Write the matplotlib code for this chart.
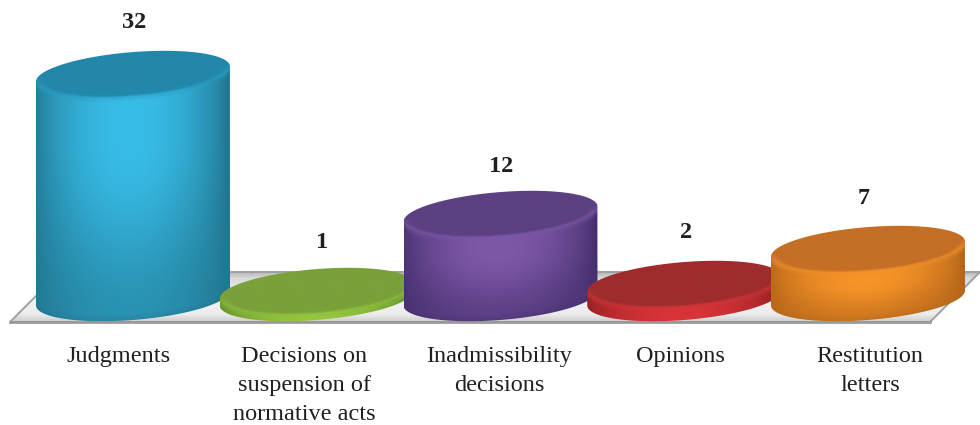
import numpy as np
import matplotlib
matplotlib.use("Agg")
from matplotlib import pyplot as plt
from matplotlib.patches import PathPatch, Polygon
from matplotlib.path import Path

categories = ["Judgments", "Decisions on\nsuspension of\nnormative acts",
              "Inadmissibility\ndecisions", "Opinions", "Restitution\nletters"]
values = [32, 1, 12, 2, 7]

# colours per cylinder: side edge, side highlight, top face, rim
edge_colors = ["#217690", "#5f8a2a", "#46306f", "#8f1f22", "#b5661a"]
light_colors = ["#38bde8", "#96c83c", "#7f58a8", "#d83438", "#f79428"]
top_colors = ["#2387ab", "#7aa03a", "#5c4082", "#9f2c2d", "#c46f25"]
rim_colors = ["#2a9bbf", "#8dbb40", "#7a56a6", "#cb3438", "#ee8f2b"]

# pixel scales of the chart
PX_X = 183.75   # pixels per category
PX_Y = 7.0      # pixels per unit of value
A = 97 / PX_X   # ellipse half width
B = 22 / PX_Y   # ellipse half height
S = 7.5 / PX_Y  # tilt of the ellipse, right side higher

fig = plt.figure(figsize=(9.8, 4.25), dpi=100)
ax = fig.add_axes([0, 0, 1, 1])
ax.set_xlim(-133 / PX_X, (980 - 133) / PX_X)
ax.set_ylim(-(425 - 298) / PX_Y, 298 / PX_Y)
ax.axis("off")


def px(x, y):
    # pixel position to data coordinates
    return (x - 133) / PX_X, (298 - y) / PX_Y


def to_rgb(c):
    return np.array(matplotlib.colors.to_rgb(c))


def smooth(a, b, x):
    s = np.clip((x - a) / (b - a), 0, 1)
    return s * s * (3 - 2 * s)


def half_curve(u):
    # height of the ellipse outline over its centre line
    return np.sqrt(np.clip(1 - u ** 2, 0, 1)) * B


def draw_floor():
    corners = [px(10, 322), px(60, 272), px(980, 272), px(930, 322)]
    col = np.interp(np.linspace(0, 1, 60), [0, 0.12, 0.5, 0.85, 1],
                    [185, 218, 244, 236, 205]) / 255
    img = np.repeat(col[:, None, None], 3, axis=2)
    x0, y1 = px(0, 272)
    x1, y0 = px(980, 322)
    patch = Polygon(corners, closed=True, fc="none", ec="none", zorder=1)
    ax.add_patch(patch)
    im = ax.imshow(img, extent=[x0, x1, y0, y1], aspect="auto", zorder=1, interpolation="bilinear")
    im.set_clip_path(patch)
    ax.add_patch(Polygon(corners, closed=True, fc="none", ec="#a0a0a0", lw=1.4, zorder=1.5))
    ax.plot(*zip(corners[0], corners[3]), color="#9a9a9a", lw=2.0, zorder=1.6)


def draw_cylinder(i, v, z):
    edge, light = to_rgb(edge_colors[i]), to_rgb(light_colors[i])
    top, rim = to_rgb(top_colors[i]), to_rgb(rim_colors[i])

    # outline of the whole cylinder
    uu = np.sin(np.linspace(-np.pi / 2, np.pi / 2, 300))
    lower = np.column_stack([i + A * uu, -half_curve(uu) + S * uu])
    upper = np.column_stack([i + A * uu[::-1], v + half_curve(uu[::-1]) + S * uu[::-1]])
    verts = np.vstack([lower, upper, lower[:1]])
    patch = PathPatch(Path(verts), fc="none", ec="none", zorder=z)
    ax.add_patch(patch)

    # per pixel shading on a grid over the bounding box
    y_top = v + B + S + 0.3
    y_bot = -B - S - 0.3
    nx, ny = 400, max(int((y_top - y_bot) * PX_Y * 2), 60)
    u = np.linspace(-1, 1, nx)[None, :]
    y = np.linspace(y_top, y_bot, ny)[:, None]
    front_top = v - half_curve(u) + S * u
    front_bot = -half_curve(u) + S * u

    # side: distance below the top edge and above the bottom edge, in pixels
    d_top = (front_top - y) * PX_Y
    d_bot = (y - front_bot) * PX_Y
    w = np.clip(d_top / max(v * PX_Y, 1), 0, 1)
    across = np.clip(1 - np.abs(u + 0.03) ** 1.9, 0, 1) ** 0.8
    fade = 1 - 0.6 * smooth(0.2, 1.0, w) * (v > 5)
    mix = (across * fade)[..., None]
    side = edge + (light - edge) * mix
    band = (0.5 * (1 - smooth(0, 6, d_top)))[..., None]
    side = side + (rim - side) * band
    low = (0.35 * (1 - smooth(0, 8, d_bot)) * (v > 5))[..., None]
    side = side + (edge - side) * low

    # top face with a soft lighter bevel along its front
    yy = (y - v - S * u) / B
    rho = np.sqrt(u ** 2 + yy ** 2)
    bevel = smooth(0.9, 1.0, rho) * np.clip(0.3 - yy * 2.5, 0, 1)
    face = top + (rim - top) * (0.8 * bevel)[..., None]

    inside = (1 - smooth(0.995, 1.005, rho))[..., None]
    img = np.clip(side + (face - side) * inside, 0, 1)
    im = ax.imshow(img, extent=[i - A, i + A, y_bot, y_top], aspect="auto", zorder=z,
                   interpolation="bilinear")
    im.set_clip_path(patch)


draw_floor()
for i, v in enumerate(values):
    draw_cylinder(i, v, 2 + i)

font = ["Liberation Serif"]
label_px = [(119, 346), (304, 346), (499, 346), (680, 346), (870, 346)]
for lab, (x, y) in zip(categories, label_px):
    ax.text(*px(x, y), lab, ha="center", va="top", family=font, fontsize=17.5,
            color="#231f20", linespacing=1.5, zorder=10)

value_px = [(134, 23), (322, 242), (501, 166), (686, 232), (864, 199)]
for v, (x, y) in zip(values, value_px):
    ax.text(*px(x, y), str(v), ha="center", va="center", family=font, fontsize=17.5,
            fontweight="bold", color="#231f20", zorder=10)

fig.savefig("out.png", dpi=100, facecolor="white")
